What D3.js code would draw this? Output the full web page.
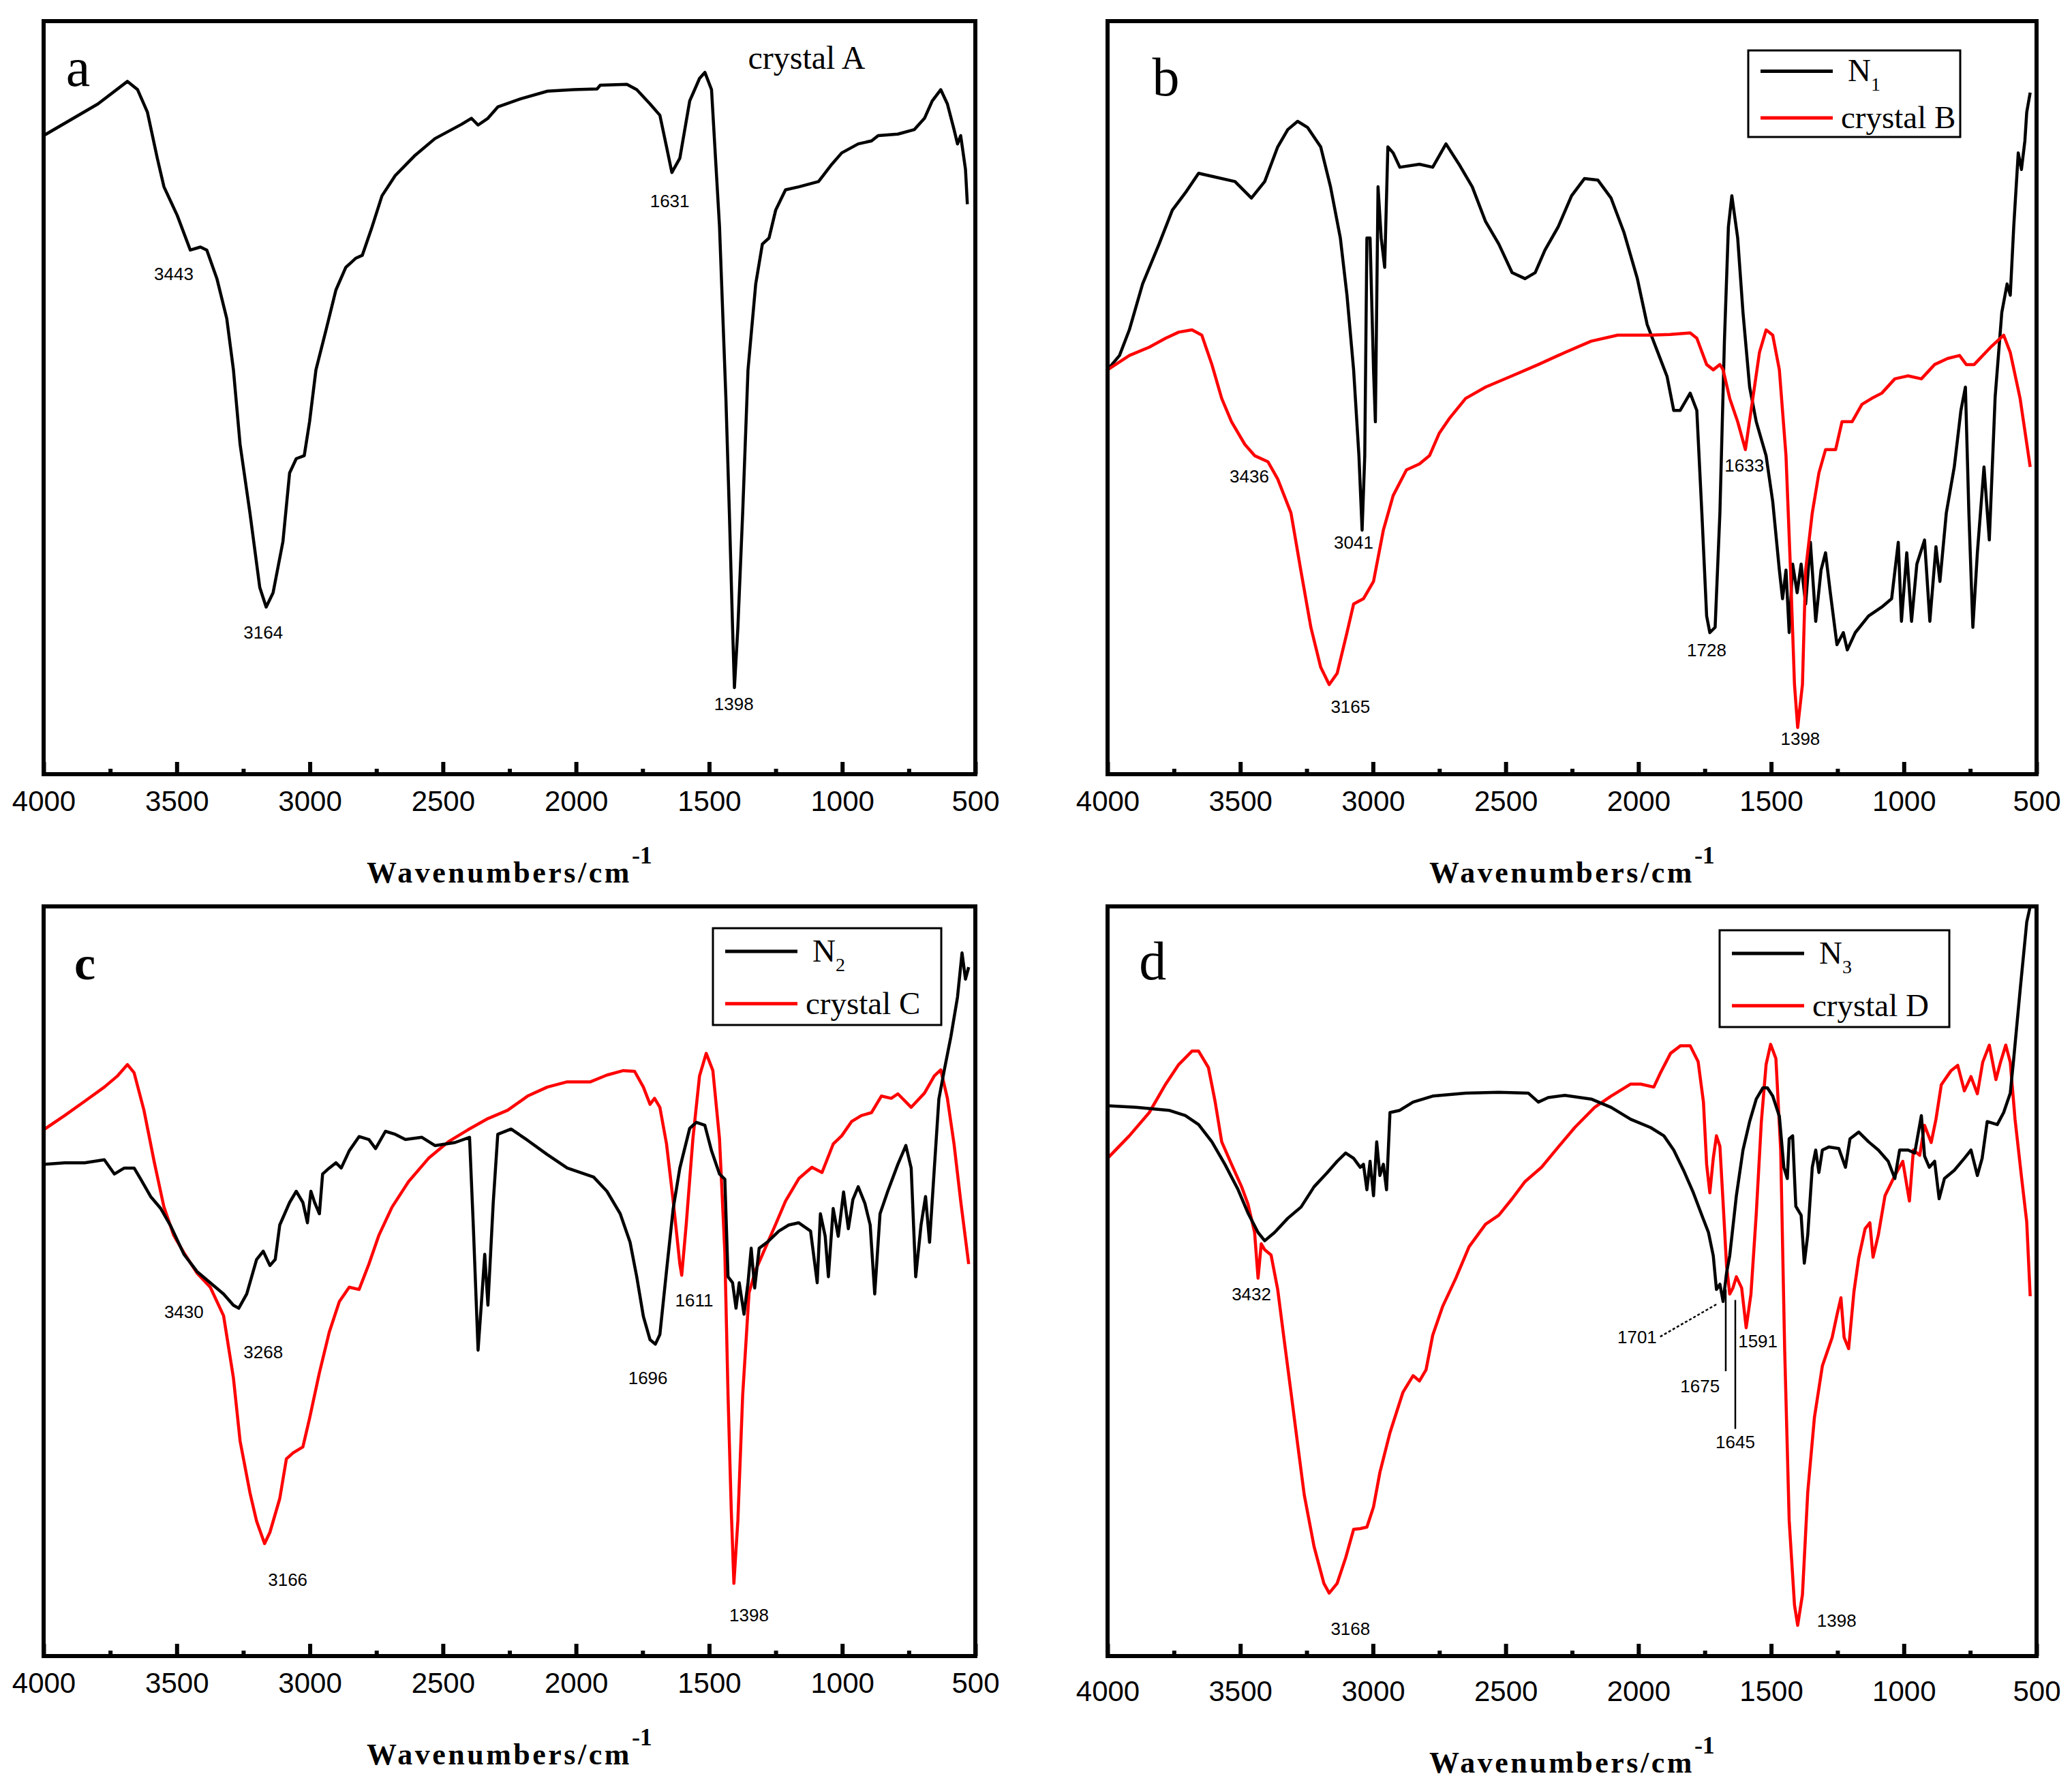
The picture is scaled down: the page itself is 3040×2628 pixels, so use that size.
<!DOCTYPE html>
<html>
<head>
<meta charset="utf-8">
<script src="https://cdn.jsdelivr.net/npm/d3@7"></script>
<style>
  body { margin: 0; background: #fff; }
  .tick text { font-family: "Liberation Sans", Arial, sans-serif; }
</style>
</head>
<body>
<svg id="chart"></svg>
<script>
// ---- data: [wavenumber, relative transmittance (0 = frame bottom, 100 = frame top)] ----
const crystalA = [[4000,84.8],[3796,89.0],[3685,92.0],[3647,90.9],[3610,87.9],[3573,81.8],[3548,78.0],[3498,74.2],[3449,69.6],[3411,70.0],[3387,69.6],[3349,65.8],[3312,60.5],[3287,53.7],[3262,43.8],[3225,34.7],[3188,24.8],[3164,22.2],[3138,24.1],[3101,30.9],[3076,40.0],[3051,41.9],[3021,42.3],[3001,46.8],[2977,53.7],[2939,59.0],[2902,64.3],[2865,67.3],[2828,68.5],[2803,68.9],[2766,72.7],[2729,76.8],[2679,79.5],[2604,82.2],[2530,84.4],[2430,86.3],[2393,87.1],[2368,86.2],[2331,87.1],[2294,88.6],[2207,89.7],[2107,90.7],[2008,90.9],[1921,91.0],[1909,91.5],[1809,91.6],[1772,90.9],[1722,89.0],[1685,87.5],[1660,83.3],[1640,79.9],[1610,81.8],[1573,89.4],[1536,92.4],[1516,93.2],[1491,90.9],[1461,72.7],[1437,49.9],[1424,34.7],[1412,19.5],[1405,11.5],[1392,19.5],[1374,34.7],[1354,53.7],[1325,65.1],[1300,70.4],[1275,71.2],[1250,74.9],[1213,77.6],[1163,78.0],[1089,78.7],[1039,81.0],[1002,82.5],[940,83.7],[890,84.1],[865,84.8],[791,85.0],[729,85.6],[691,87.1],[662,89.4],[630,90.9],[605,89.0],[580,85.6],[567,83.7],[555,84.8],[537,80.3],[530,75.7]];

const n1 = [[4000,53.7],[3955,55.6],[3918,59.0],[3868,65.1],[3806,70.4],[3756,74.9],[3707,77.2],[3657,79.8],[3595,79.3],[3520,78.7],[3458,76.5],[3408,78.7],[3359,83.3],[3321,85.6],[3284,86.7],[3247,85.9],[3197,83.3],[3160,78.0],[3123,71.2],[3098,63.6],[3073,53.7],[3053,42.3],[3041,32.4],[3031,42.3],[3023,71.2],[3011,71.2],[2998,53.7],[2991,46.8],[2981,78.0],[2969,71.2],[2956,67.3],[2944,83.3],[2924,82.5],[2899,80.6],[2825,81.0],[2775,80.6],[2725,83.7],[2676,81.0],[2626,78.0],[2576,73.4],[2526,70.4],[2476,66.6],[2427,65.8],[2389,66.6],[2352,69.6],[2302,72.7],[2252,76.8],[2203,79.1],[2153,78.9],[2103,76.5],[2054,71.9],[2004,65.8],[1967,59.7],[1917,55.1],[1892,52.8],[1867,48.3],[1843,48.3],[1805,50.6],[1780,48.3],[1761,34.7],[1743,21.0],[1731,18.8],[1711,19.5],[1693,34.7],[1676,57.5],[1661,72.7],[1648,76.8],[1626,71.2],[1606,61.3],[1581,51.4],[1556,46.8],[1519,42.3],[1494,36.2],[1469,27.1],[1457,23.3],[1444,27.1],[1432,18.8],[1419,27.9],[1402,24.1],[1387,27.9],[1370,22.6],[1352,30.8],[1332,20.3],[1312,27.1],[1295,29.4],[1277,24.1],[1252,17.2],[1228,18.8],[1213,16.5],[1183,18.8],[1133,21.0],[1083,22.2],[1046,23.3],[1021,30.8],[1009,20.3],[989,29.4],[971,20.3],[951,27.9],[922,31.1],[902,20.3],[879,30.2],[864,25.6],[840,34.7],[810,40.8],[785,48.3],[768,51.4],[755,34.7],[740,19.5],[723,29.4],[698,40.8],[678,31.1],[656,50.1],[631,61.3],[611,65.1],[599,63.6],[586,72.7],[569,82.5],[557,80.3],[544,84.1],[537,87.9],[524,90.5]];

const crystalB = [[4000,53.7],[3918,55.6],[3843,56.7],[3781,57.9],[3732,58.7],[3682,59.0],[3645,58.3],[3607,54.4],[3570,49.9],[3533,46.8],[3483,43.8],[3446,42.3],[3396,41.5],[3359,39.2],[3309,34.7],[3272,27.1],[3234,19.5],[3197,14.2],[3165,11.9],[3135,13.4],[3098,18.8],[3073,22.6],[3036,23.3],[2998,25.6],[2961,32.4],[2924,37.0],[2874,40.4],[2825,41.2],[2787,42.3],[2750,45.3],[2713,47.2],[2651,49.9],[2576,51.4],[2476,52.9],[2377,54.4],[2277,56.0],[2178,57.5],[2078,58.3],[1954,58.3],[1880,58.4],[1805,58.6],[1780,57.9],[1743,54.4],[1718,53.7],[1693,54.4],[1681,53.7],[1656,49.9],[1626,46.8],[1597,43.1],[1569,49.9],[1544,56.0],[1519,59.0],[1494,58.3],[1469,53.7],[1444,42.3],[1427,27.1],[1412,11.9],[1400,6.2],[1382,11.9],[1370,27.1],[1345,34.7],[1320,40.0],[1295,43.1],[1257,43.1],[1233,46.8],[1195,46.8],[1158,49.1],[1121,49.9],[1083,50.6],[1034,52.5],[984,52.9],[934,52.5],[884,54.4],[835,55.2],[790,55.6],[765,54.4],[735,54.4],[673,56.7],[624,58.3],[599,56.0],[562,49.9],[524,40.8]];

const n2 = [[4000,65.6],[3921,65.8],[3846,65.8],[3772,66.2],[3734,64.3],[3697,65.1],[3660,65.1],[3635,63.6],[3598,61.3],[3560,59.7],[3523,57.4],[3473,53.6],[3424,51.3],[3374,49.8],[3324,48.3],[3287,46.8],[3267,46.4],[3237,48.3],[3200,52.9],[3175,54.0],[3150,52.1],[3130,52.9],[3113,57.5],[3076,60.5],[3051,62.0],[3026,60.5],[3009,57.8],[2996,62.0],[2982,60.5],[2964,59.0],[2952,64.3],[2927,65.1],[2902,65.8],[2882,65.1],[2852,67.4],[2815,69.3],[2778,68.9],[2753,67.7],[2716,70.0],[2679,69.6],[2641,68.9],[2579,69.2],[2530,68.1],[2455,68.5],[2400,69.2],[2386,57.5],[2368,40.8],[2356,46.8],[2343,53.6],[2331,46.8],[2311,60.5],[2294,69.6],[2244,70.3],[2182,68.8],[2108,66.9],[2033,65.1],[1934,63.9],[1884,62.0],[1834,59.0],[1797,55.2],[1772,50.6],[1747,45.3],[1722,42.2],[1702,41.6],[1685,42.9],[1660,51.4],[1635,59.7],[1610,65.1],[1573,70.4],[1548,71.2],[1516,70.8],[1491,67.4],[1461,64.3],[1441,63.6],[1429,50.6],[1412,49.8],[1399,46.4],[1387,49.8],[1369,45.6],[1354,49.8],[1342,54.4],[1329,49.1],[1312,54.4],[1282,55.2],[1238,56.7],[1201,57.5],[1164,57.8],[1119,56.7],[1094,49.8],[1082,59.0],[1064,56.0],[1052,50.6],[1034,59.7],[1015,56.0],[995,61.9],[977,57.0],[960,60.9],[940,62.6],[915,60.4],[895,57.5],[878,48.3],[858,59.0],[829,62.0],[791,65.6],[761,68.1],[741,65.1],[724,50.6],[704,57.5],[687,61.3],[672,55.2],[654,65.1],[637,74.3],[617,78.1],[592,82.6],[567,87.9],[550,93.8],[537,90.3],[525,91.9]];

const crystalC = [[4000,70.2],[3921,72.1],[3846,74.0],[3772,75.9],[3722,77.4],[3685,78.9],[3660,77.8],[3623,72.8],[3585,66.0],[3548,59.9],[3511,56.1],[3473,53.8],[3424,51.1],[3374,49.2],[3324,45.4],[3287,37.1],[3262,28.7],[3225,21.8],[3200,18.0],[3170,15.0],[3150,16.5],[3113,21.0],[3088,26.3],[3063,27.1],[3026,27.9],[3001,31.7],[2964,37.8],[2927,43.2],[2889,47.3],[2852,49.2],[2815,48.9],[2778,52.3],[2741,56.1],[2691,59.9],[2629,63.3],[2554,66.4],[2480,68.6],[2406,70.2],[2331,71.7],[2257,72.8],[2182,74.7],[2108,75.9],[2033,76.6],[1946,76.6],[1884,77.5],[1822,78.1],[1780,78.0],[1747,75.9],[1722,73.6],[1705,74.4],[1685,73.2],[1660,68.3],[1635,60.7],[1610,52.3],[1603,50.8],[1586,57.6],[1561,69.0],[1536,77.4],[1511,80.4],[1486,78.1],[1461,69.0],[1441,53.8],[1429,34.8],[1417,19.6],[1407,9.7],[1392,18.1],[1374,34.8],[1350,48.5],[1325,51.5],[1287,54.6],[1250,57.6],[1213,60.7],[1163,63.7],[1114,65.2],[1076,64.5],[1034,68.3],[1002,69.4],[965,71.3],[928,72.1],[890,72.5],[853,74.7],[816,74.4],[791,75.0],[741,73.2],[691,75.1],[654,77.4],[630,78.2],[605,74.4],[580,68.3],[555,60.7],[525,52.3]];

const n3 = [[4000,73.4],[3893,73.2],[3769,72.8],[3707,72.1],[3657,70.9],[3607,68.6],[3558,65.6],[3508,62.2],[3471,59.1],[3433,56.5],[3408,55.4],[3371,56.5],[3321,58.4],[3271,59.9],[3222,62.6],[3172,64.5],[3135,66.0],[3103,67.1],[3073,66.4],[3048,65.2],[3036,65.6],[3023,62.2],[3011,66.0],[2998,61.4],[2986,68.6],[2974,64.1],[2961,65.6],[2949,62.2],[2936,72.5],[2899,72.8],[2849,73.9],[2775,74.7],[2651,75.1],[2526,75.2],[2415,75.1],[2377,73.9],[2340,74.5],[2277,74.8],[2178,74.3],[2103,73.2],[2029,71.6],[1954,70.5],[1904,69.4],[1867,67.5],[1830,64.8],[1793,61.8],[1761,58.8],[1736,56.5],[1718,53.4],[1706,48.9],[1693,49.6],[1681,47.3],[1668,51.1],[1656,53.4],[1631,61.4],[1606,67.5],[1581,71.3],[1556,74.3],[1531,75.8],[1514,75.8],[1494,74.7],[1469,72.0],[1452,65.2],[1439,63.7],[1432,69.0],[1419,69.4],[1407,60.0],[1387,58.8],[1375,52.4],[1362,56.2],[1345,65.2],[1332,67.5],[1320,64.5],[1307,67.5],[1283,67.9],[1245,67.7],[1220,65.2],[1203,69.0],[1170,69.9],[1133,68.6],[1096,67.5],[1059,66.0],[1034,63.7],[1016,67.5],[984,67.5],[959,67.1],[934,72.1],[922,66.7],[904,65.2],[884,66.0],[867,61.0],[847,63.7],[810,64.8],[772,66.4],[747,67.5],[723,64.1],[705,66.4],[686,71.3],[648,70.9],[624,72.5],[599,75.1],[586,79.7],[562,88.8],[537,97.9],[524,100]];

const crystalD = [[4000,66.4],[3918,69.4],[3843,72.5],[3781,76.3],[3732,78.9],[3682,80.7],[3657,80.7],[3620,78.5],[3595,74.0],[3570,68.6],[3533,65.6],[3495,62.6],[3471,60.3],[3446,56.5],[3433,50.4],[3421,55.0],[3408,54.2],[3384,53.5],[3359,48.9],[3334,42.0],[3309,35.2],[3284,28.3],[3259,21.5],[3222,14.6],[3185,9.7],[3165,8.4],[3135,9.7],[3103,13.1],[3073,16.9],[3048,17.0],[3023,17.2],[2998,19.9],[2974,24.5],[2936,29.8],[2887,35.2],[2849,37.4],[2825,36.7],[2800,38.2],[2775,42.8],[2738,46.6],[2688,50.4],[2638,54.6],[2576,57.6],[2526,58.8],[2476,61.0],[2427,63.3],[2365,65.2],[2302,67.9],[2240,70.5],[2165,73.2],[2103,74.7],[2029,76.3],[1991,76.3],[1942,75.9],[1917,77.8],[1879,80.4],[1842,81.4],[1805,81.4],[1775,79.3],[1755,73.9],[1743,65.6],[1731,61.8],[1718,66.4],[1706,69.4],[1693,68.0],[1681,60.5],[1668,52.1],[1656,48.3],[1644,49.1],[1631,50.6],[1611,49.1],[1594,43.8],[1576,48.3],[1556,59.0],[1537,71.2],[1519,78.9],[1502,81.6],[1482,79.7],[1464,67.5],[1449,40.9],[1432,18.1],[1412,6.8],[1400,4.1],[1382,8.2],[1362,21.9],[1337,31.8],[1307,38.7],[1270,42.5],[1252,45.5],[1237,47.8],[1225,42.5],[1208,41.0],[1188,48.6],[1170,53.1],[1146,57.0],[1128,57.8],[1116,53.2],[1096,56.2],[1071,61.4],[1034,64.1],[1004,66.0],[979,60.7],[964,67.5],[940,66.8],[922,70.8],[897,68.5],[879,71.6],[859,76.2],[822,78.1],[797,78.8],[772,75.4],[747,77.3],[723,75.0],[703,79.2],[678,81.5],[653,76.9],[636,79.2],[616,81.5],[599,79.2],[581,71.6],[557,64.0],[537,57.9],[524,48.0]];

// peak labels: [wavenumber, baseline level, text]
const labelsA = [[3511,65.6,"3443"],[3175,18.0,"3164"],[1648,75.3,"1631"],[1407,8.5,"1398"]];
const labelsB = [[3466,38.7,"3436"],[3073,30.0,"3041"],[3085,8.1,"3165"],[1743,15.7,"1728"],[1601,40.2,"1633"],[1390,3.9,"1398"]];
const labelsC = [[3473,45.1,"3430"],[3175,39.7,"3268"],[3083,9.4,"3166"],[1730,36.3,"1696"],[1556,46.6,"1611"],[1350,4.6,"1398"]];
const labelsD = [[3458,47.5,"3432"],[3085,2.8,"3168"],[1253,3.9,"1398"],[2005,41.7,"1701"],[1768,35.2,"1675"],[1635,27.7,"1645"],[1550,41.2,"1591"]];
// leader lines in panel d: [[wn, level], [wn, level], dashed]
const leadersD = [[[1918,42.6],[1702,47.0],true],[[1671,48.9],[1671,38.0],false],[[1635,47.5],[1635,30.3],false]];

const majorTicks = [4000,3500,3000,2500,2000,1500,1000,500];
const minorTicks = [3750,3250,2750,2250,1750,1250,750];

// ---- layout ----
const W = 3040, H = 2628;
const panels = [
  { letter: "a", bold: false, frame: [64, 31, 1431, 1136], letterPos: [0.024, 91.4],
    series: [{ data: crystalA, color: "#000" }], labels: labelsA, note: "crystal A", labelShift: 0 },
  { letter: "b", bold: false, frame: [1625, 31, 2988, 1136], letterPos: [0.048, 90.1],
    series: [{ data: n1, color: "#000" }, { data: crystalB, color: "#ff0000" }], labels: labelsB,
    legend: { box: [2565, 74, 2876, 201], names: [["N", "1"], ["crystal B", ""]] }, labelShift: 0 },
  { letter: "c", bold: true, frame: [64, 1330, 1431, 2430], letterPos: [0.033, 90.3],
    series: [{ data: crystalC, color: "#ff0000" }, { data: n2, color: "#000" }], labels: labelsC,
    legend: { box: [1046, 1362, 1381, 1504], names: [["N", "2"], ["crystal C", ""]] }, labelShift: 0 },
  { letter: "d", bold: false, frame: [1625, 1330, 2988, 2430], letterPos: [0.034, 90.3],
    series: [{ data: crystalD, color: "#ff0000" }, { data: n3, color: "#000" }], labels: labelsD, leaders: leadersD,
    legend: { box: [2523, 1365, 2860, 1507], names: [["N", "3"], ["crystal D", ""]] }, labelShift: 12 }
];

const svg = d3.select("#chart").attr("width", W).attr("height", H)
  .style("font-family", "'Liberation Serif', 'Times New Roman', serif");
svg.append("rect").attr("width", W).attr("height", H).attr("fill", "#fff");

panels.forEach((p, i) => {
  const [x0, y0, x1, y1] = p.frame;
  const x = d3.scaleLinear().domain([4000, 500]).range([x0, x1]);
  const y = d3.scaleLinear().domain([0, 100]).range([y1, y0]);
  const g = svg.append("g");

  const clipId = "clip" + i;
  g.append("clipPath").attr("id", clipId)
    .append("rect").attr("x", x0).attr("y", y0).attr("width", x1 - x0).attr("height", y1 - y0);

  const line = d3.line().x(d => x(d[0])).y(d => y(d[1]));
  p.series.forEach(s => {
    g.append("path").datum(s.data)
      .attr("clip-path", `url(#${clipId})`)
      .attr("fill", "none").attr("stroke", s.color)
      .attr("stroke-width", 4.5).attr("stroke-linejoin", "round")
      .attr("d", line);
  });

  // minor ticks (inside, no labels)
  g.append("g").attr("transform", `translate(0,${y1})`)
    .call(d3.axisBottom(x).tickValues(minorTicks).tickSize(-8).tickFormat(""))
    .call(a => a.select(".domain").remove())
    .call(a => a.selectAll("line").attr("stroke-width", 6));

  // major ticks + labels
  g.append("g").attr("transform", `translate(0,${y1})`)
    .call(d3.axisBottom(x).tickValues(majorTicks).tickSize(-18).tickPadding(24 + p.labelShift).tickFormat(d3.format("d")))
    .call(a => a.select(".domain").remove())
    .call(a => a.selectAll("line").attr("stroke-width", 6))
    .call(a => a.selectAll("text").attr("font-size", 42).attr("fill", "#000"));

  // frame
  g.append("rect").attr("x", x0).attr("y", y0).attr("width", x1 - x0).attr("height", y1 - y0)
    .attr("fill", "none").attr("stroke", "#000").attr("stroke-width", 6);

  // axis title
  const t = g.append("text").attr("x", (x0 + x1) / 2).attr("y", y1 + 159 + p.labelShift)
    .attr("text-anchor", "middle").attr("font-weight", "bold").attr("font-size", 44)
    .attr("letter-spacing", 3.5);
  t.append("tspan").text("Wavenumbers/cm");
  t.append("tspan").attr("dy", -28).attr("font-size", 36).attr("letter-spacing", 0).text("-1");

  // panel letter
  g.append("text")
    .attr("x", x0 + p.letterPos[0] * (x1 - x0)).attr("y", y(p.letterPos[1]))
    .attr("font-size", p.bold ? 70 : 80).attr("font-weight", p.bold ? "bold" : "normal")
    .text(p.letter);

  // peak labels
  g.selectAll(".peak").data(p.labels).join("text")
    .attr("x", d => x(d[0])).attr("y", d => y(d[1]))
    .attr("text-anchor", "middle")
    .attr("font-family", "'Liberation Sans', Arial, sans-serif")
    .attr("font-size", 26).attr("fill", "#000")
    .text(d => d[2]);

  (p.leaders || []).forEach(l => {
    g.append("line")
      .attr("x1", x(l[0][0])).attr("y1", y(l[0][1]))
      .attr("x2", x(l[1][0])).attr("y2", y(l[1][1]))
      .attr("stroke", "#000").attr("stroke-width", 2.5)
      .attr("stroke-dasharray", l[2] ? "4,3" : null);
  });

  if (p.note) {
    g.append("text").attr("x", x(1354)).attr("y", y(93.7))
      .attr("font-size", 48).text(p.note);
  }

  if (p.legend) {
    const [bx0, by0, bx1, by1] = p.legend.box;
    const bh = by1 - by0;
    g.append("rect").attr("x", bx0).attr("y", by0).attr("width", bx1 - bx0).attr("height", bh)
      .attr("fill", "#fff").attr("stroke", "#000").attr("stroke-width", 3);
    p.series.slice().sort((a, b) => (a.color === "#000" ? -1 : 1)).forEach((s, k) => {
      const ly = by0 + bh * (k === 0 ? 0.24 : 0.78);
      g.append("line").attr("x1", bx0 + 18).attr("x2", bx0 + 124)
        .attr("y1", ly).attr("y2", ly)
        .attr("stroke", s.color).attr("stroke-width", 5);
      const name = p.legend.names[k];
      const tx = g.append("text").attr("x", bx0 + (k === 0 ? 146 : 136)).attr("y", ly + 15)
        .attr("font-size", 47);
      tx.append("tspan").text(name[0]);
      if (name[1]) tx.append("tspan").attr("dy", 14).attr("font-size", 28).text(name[1]);
    });
  }
});
</script>
</body>
</html>
